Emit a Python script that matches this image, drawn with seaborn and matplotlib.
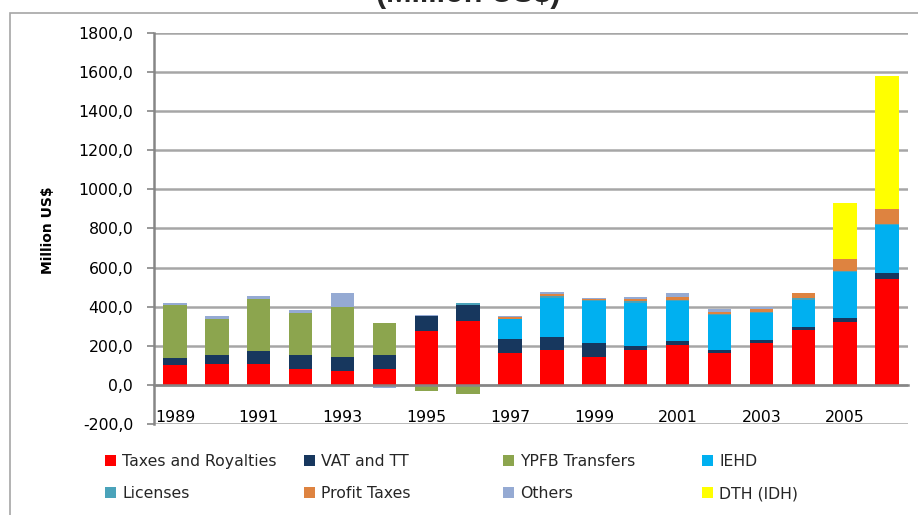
import numpy as np
import matplotlib
matplotlib.use("Agg")
import matplotlib.pyplot as plt
import seaborn as sns
from matplotlib.patches import Patch, Rectangle

# ---------------- data ----------------
years = list(range(1989, 2007))
series_names = ["Taxes and Royalties", "VAT and TT", "YPFB Transfers", "IEHD",
                "Licenses", "Profit Taxes", "Others", "DTH (IDH)"]
taxes_royalties = [101, 109, 109, 80, 73, 80, 275, 325, 161, 181, 144, 181, 202, 164, 215, 281, 324, 544]
vat_tt = [37, 43, 65, 72, 71, 72, 79, 85, 75, 63, 71, 19, 20, 13, 13, 14, 19, 27]
ypfb_transfers = [272, 186, 263, 215, 256, 164, -31, -48, 0, 0, 0, 0, 0, 0, 0, 0, 0, 0]
iehd = [0, 0, 0, 0, 0, 0, 0, 0, 101, 202, 214, 217, 207, 181, 142, 141, 237, 247]
licenses = [0, 0, 0, 0, 0, 0, 0, 7, 2, 7, 3, 14, 3, 7, 5, 7, 3, 5]
profit_taxes = [0, 0, 0, 0, 0, 0, 0, 0, 6, 12, 5, 8, 17, 7, 12, 29, 60, 75]
others = [9, 14, 16, 14, 68, -17, 6, 0, 5, 8, 9, 9, 19, 15, 9, 0, 0, 0]
dth_idh = [0] * 16 + [286, 681]
tick_years = [str(y) for y in years[::2]]
y_ticks = list(range(-200, 1801, 200))

colors = ["#FF0000", "#17375E", "#8CA54E", "#00B0F0",
          "#4AA3BA", "#DE8340", "#95AAD3", "#FFFF00"]

# ---------------- style ----------------
sns.set_theme(style="white")
plt.rcParams["font.family"] = ["DejaVu Sans"]

fig = plt.figure(figsize=(9.18, 5.15), dpi=100)
ax = fig.add_axes([154 / 918, 1 - 424 / 515, 754 / 918, 391 / 515])

layers = np.array([taxes_royalties, vat_tt, ypfb_transfers, iehd,
                   licenses, profit_taxes, others, dth_idh], dtype=float)
pos = np.clip(layers, 0, None).cumsum(axis=0)
neg = np.clip(layers, None, 0).cumsum(axis=0)
labels = [str(y) for y in years]

for i in range(len(layers) - 1, -1, -1):
    for h in (pos[i], neg[i]):
        sns.barplot(x=labels, y=h, color=colors[i], saturation=1, width=0.56,
                    errorbar=None, linewidth=0, ax=ax, zorder=2)

ax.set_xlim(-0.5, len(years) - 0.5)
ax.set_ylim(-200, 1800)
ax.set_yticks(y_ticks)
ax.set_yticklabels([f"{v:.1f}".replace(".", ",") for v in y_ticks])
ax.set_xticks(range(0, len(years), 2))
ax.set_xticklabels(tick_years)

ax.yaxis.grid(True, color="#A6A6A6", lw=1.8)
ax.xaxis.grid(False)
ax.set_axisbelow(True)

for s in ("top", "right"):
    ax.spines[s].set_visible(False)
ax.spines["left"].set_color("#868686")
ax.spines["left"].set_linewidth(1.8)
ax.spines["bottom"].set_position(("data", 0))
ax.spines["bottom"].set_color("#868686")
ax.spines["bottom"].set_linewidth(1.8)
ax.spines["bottom"].set_zorder(3)

ax.tick_params(axis="y", left=True, length=5, width=1.2, color="#868686",
               pad=10, labelsize=11.3, labelcolor="black")
ax.tick_params(axis="x", bottom=False, length=0, pad=18, labelsize=11.3,
               labelcolor="black")

ax.set_xlabel("")
ax.set_ylabel("Million US$", fontweight="bold", fontsize=10, color="black")
ax.yaxis.set_label_coords(-0.131, 0.495)

# title (cut off at top, as in the reference)
fig.text(468 / 918, 1 - 2 / 515, "(Million US$)", ha="center", va="baseline",
         fontsize=22, fontweight="bold", family=["Liberation Sans", "DejaVu Sans"])

# outer frame
fig.add_artist(Rectangle((10 / 918, -0.5), 2, 0.5 + (1 - 13 / 515),
                         transform=fig.transFigure, fill=False,
                         edgecolor="#A6A6A6", lw=1.2))

# legend in four columns
col_pairs = [(0, 4), (1, 5), (2, 6), (3, 7)]
col_x = [105, 304, 503, 702]
for (a, b), x in zip(col_pairs, col_x):
    handles = [Patch(facecolor=colors[a], edgecolor="none", label=series_names[a]),
               Patch(facecolor=colors[b], edgecolor="none", label=series_names[b])]
    fig.legend(handles=handles, loc="upper left",
               bbox_to_anchor=(x / 918, 1 - 454 / 515), frameon=False,
               fontsize=11.3, handlelength=0.7, handleheight=0.7,
               handletextpad=0.4, labelspacing=1.1, borderpad=0,
               borderaxespad=0)

fig.savefig("out.png", dpi=100)
